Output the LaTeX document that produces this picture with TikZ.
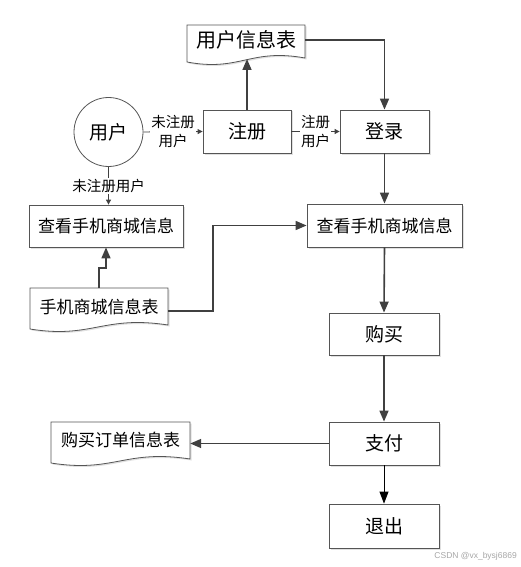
\documentclass[tikz,border=0pt]{standalone}
\usepackage{fontspec}
\setmainfont{Noto Sans CJK SC}
\newfontfamily\wmfont{Liberation Sans}
\usetikzlibrary{arrows.meta,shadows}
\definecolor{linegray}{HTML}{404040}
\definecolor{boxgray}{HTML}{555555}
\begin{document}
\begin{tikzpicture}[x=1pt,y=-1pt,
  box/.style={draw=boxgray, line width=0.8pt, fill=white, inner sep=0pt,
    drop shadow={shadow xshift=1.5pt, shadow yshift=-1.5pt, fill=black!20, opacity=0.6}},
  bigtext/.style={font=\fontsize{19}{22}\selectfont},
  longtext/.style={font=\fontsize{17}{20}\selectfont},
  doctext/.style={inner sep=0pt},
  docline/.style={draw=boxgray, line width=0.8pt, fill=white,
    drop shadow={shadow xshift=1.5pt, shadow yshift=-1.5pt, fill=black!20, opacity=0.6}},
  arr/.style={draw=linegray, line width=1.6pt, -{Triangle[length=11pt,width=9pt]}},
  thinarr/.style={draw=linegray, line width=0.9pt, -{Triangle[length=5pt,width=5pt]}},
  blackarr/.style={draw=black, line width=0.9pt, -{Triangle[length=12pt,width=9pt]}},
  lbl/.style={fill=white, inner sep=1pt, align=center, font=\fontsize{14.5}{19}\selectfont},
]
\useasboundingbox (0,0) rectangle (521,567);

% document outlines
\path[docline] (187,25) -- (305,25) -- (305,58)
  .. controls (250,48) and (240,72) .. (187,62) -- cycle;
\path[docline] (30,288) -- (168,288) -- (168,325)
  .. controls (103,315) and (92,339) .. (30,329) -- cycle;
\path[docline] (51,422) -- (190,422) -- (190,459)
  .. controls (125,449) and (114,473) .. (51,463) -- cycle;

% document nodes
\node[doctext, font=\fontsize{20}{23}\selectfont, minimum width=118pt, minimum height=30pt] (d1) at (246,40) {用户信息表};
\node[doctext, longtext, minimum width=138pt, minimum height=38pt] (d2) at (99,307) {手机商城信息表};
\node[doctext, longtext, minimum width=139pt, minimum height=36pt] (d3) at (120.5,440) {购买订单信息表};
\coordinate (d1b) at (247,59);

% user circle
\node[circle, draw=boxgray, line width=0.8pt, fill=white, minimum size=69pt, inner sep=0pt, bigtext] (u) at (108.5,132) {用户};

% boxes
\node[box, bigtext, minimum width=88pt, minimum height=43pt] (zc) at (247,131.5) {注册};
\node[box, bigtext, minimum width=89pt, minimum height=43pt] (dl) at (384.5,131.5) {登录};
\node[box, longtext, minimum width=154pt, minimum height=42pt] (lv) at (106,226) {查看手机商城信息};
\node[box, longtext, minimum width=155pt, minimum height=43pt] (rv) at (384.5,225.5) {查看手机商城信息};
\node[box, bigtext, minimum width=110pt, minimum height=42pt] (gm) at (384,334) {购买};
\node[box, bigtext, minimum width=110pt, minimum height=43pt] (zf) at (384,443.5) {支付};
\node[box, bigtext, minimum width=110pt, minimum height=44pt] (tc) at (384,526) {退出};

% connectors
\draw[arr] (zc.north) -- (d1b);
\draw[arr] (d1.east) -| (dl.north);
\draw[thinarr] (u.east) -- node[lbl] (l1) {未注册\\用户} (zc.west);
\draw[thinarr] (zc.east) -- node[lbl] (l2) {注册\\用户} (dl.west);
\draw[thinarr] (u.south) -- node[lbl] (l3) {未注册用户} (u.south |- lv.north);
\draw[arr] (d2.north) -- ++(0,-20) -| (lv.south);
\draw[arr] ([yshift=-4pt]d2.east) -- ++(45,0) |- (rv.west);
\draw[arr] (dl.south) -- (rv.north);
\draw[arr] (rv.south) -- (gm.north);
\draw[arr] (gm.south) -- (zf.north);
\draw[blackarr] (zf.south) -- (tc.north);
\draw[arr] (zf.west) -- (zf.west -| d3.east);

% watermark
\node[anchor=east, inner sep=0pt, text=black!35, font=\wmfont\fontsize{8.5}{10}\selectfont] (wm) at (517,556) {CSDN @vx\_bysj6869};
\end{tikzpicture}
\end{document}
